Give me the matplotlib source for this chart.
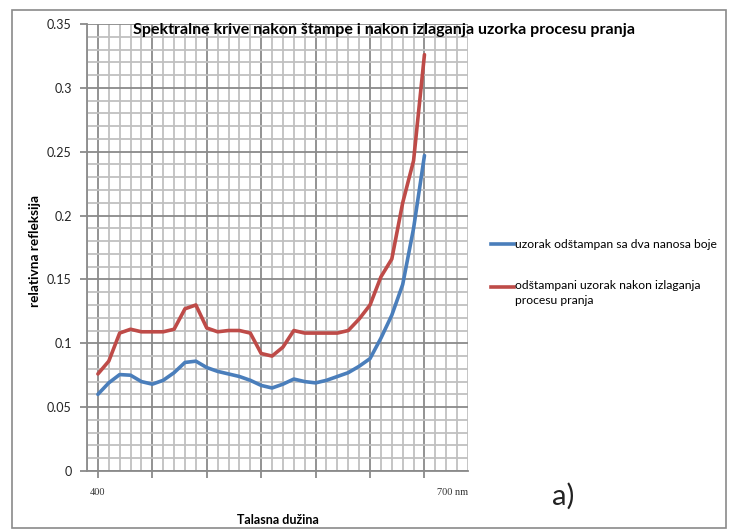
import numpy as np
import matplotlib.pyplot as plt
from matplotlib.lines import Line2D
from matplotlib.patches import Rectangle
from matplotlib.ticker import MultipleLocator

plt.rcParams['font.family'] = ['Lato', 'DejaVu Sans']

# wavelength (nm) and relative reflectance
wavelength = [400, 410, 420, 430, 440, 450, 460, 470, 480, 490,
              500, 510, 520, 530, 540, 550, 560, 570, 580, 590,
              600, 610, 620, 630, 640, 650, 660, 670, 680, 690, 700]
two_coats = [0.060, 0.069, 0.0755, 0.075, 0.070, 0.068, 0.071, 0.077, 0.085, 0.086,
             0.081, 0.078, 0.076, 0.074, 0.071, 0.067, 0.065, 0.068, 0.072, 0.070,
             0.069, 0.071, 0.074, 0.077, 0.082, 0.088, 0.104, 0.122, 0.146, 0.190,
             0.247]
after_wash = [0.076, 0.086, 0.108, 0.111, 0.109, 0.109, 0.109, 0.111, 0.127, 0.130,
              0.112, 0.109, 0.110, 0.110, 0.108, 0.092, 0.090, 0.097, 0.110, 0.108,
              0.108, 0.108, 0.108, 0.110, 0.119, 0.130, 0.152, 0.166, 0.210, 0.243,
              0.326]

labels = ["uzorak odštampan sa dva nanosa boje",
          "odštampani uzorak nakon izlaganja\nprocesu pranja"]
blue, red = "#4A7EBB", "#BE4B48"

W, H = 729, 530
fig = plt.figure(figsize=(W / 100, H / 100), dpi=100)
ax = fig.add_axes([87 / W, 1 - 471 / H, (468 - 87) / W, (471 - 24) / H])

ax.plot(wavelength, two_coats, color=blue, lw=2.6, solid_joinstyle='round', solid_capstyle='round', zorder=3)
ax.plot(wavelength, after_wash, color=red, lw=2.6, solid_joinstyle='round', solid_capstyle='round', zorder=3)

ax.set_xlim(390, 740)
ax.set_ylim(0, 0.35)
ax.xaxis.set_major_locator(MultipleLocator(50))
ax.xaxis.set_minor_locator(MultipleLocator(10))
ax.yaxis.set_minor_locator(MultipleLocator(0.01))
ax.set_yticks(np.arange(0, 0.351, 0.05))
ax.set_yticklabels(["0", "0.05", "0.1", "0.15", "0.2", "0.25", "0.3", "0.35"])
ax.set_xticklabels([])

ax.grid(which='minor', color='#C0C0C0', lw=1.3)
ax.grid(which='major', color='#8A8A8A', lw=1.3)
ax.set_axisbelow(True)
for s in ['top', 'right']:
    ax.spines[s].set_visible(False)
for s in ['left', 'bottom']:
    ax.spines[s].set_color('#8A8A8A')
    ax.spines[s].set_linewidth(1.3)
ax.tick_params(which='major', length=5, width=1.3, color='#8A8A8A', labelsize=9, labelcolor='#222222', pad=6)
ax.tick_params(which='minor', length=0)

ax.text(400, -0.047, "400", transform=ax.get_xaxis_transform(), ha='center', va='center',
        family='Liberation Serif', fontsize=7.5, color='#333333')
ax.text(726, -0.047, "700 nm", transform=ax.get_xaxis_transform(), ha='center', va='center',
        family='Liberation Serif', fontsize=7.5, color='#333333')

fig.text(133 / W, 1 - 30 / H, "Spektralne krive nakon štampe i nakon izlaganja uzorka procesu pranja",
         ha='left', va='center', fontsize=11.5, fontweight='bold')
fig.text(277.5 / W, 1 - 520 / H, "Talasna dužina", ha='center', va='center', fontsize=9, fontweight='bold')
fig.text(35 / W, 1 - 251 / H, "relativna refleksija", ha='center', va='center', rotation=90,
         fontsize=9.8, fontweight='bold')

# legend drawn by hand, as in the original
fig.add_artist(Line2D([491 / W, 514 / W], [1 - 244 / H] * 2, color=blue, lw=2.6))
fig.text(515 / W, 1 - 244 / H, labels[0], ha='left', va='center', fontsize=8.7)
fig.add_artist(Line2D([491 / W, 514 / W], [1 - 287 / H] * 2, color=red, lw=2.6))
fig.text(515 / W, 1 - 280 / H, labels[1], ha='left', va='top', fontsize=8.7, linespacing=1.45)

fig.text(563 / W, 1 - 496 / H, "a)", ha='center', va='center', fontsize=21, color='#222222')

fig.add_artist(Rectangle((12 / W, 1 - 528 / H), (726 - 12) / W, (528 - 10) / H,
                         transform=fig.transFigure, fill=False, ec='#8A8A8A', lw=1.2))

fig.savefig("out.png", dpi=100)
